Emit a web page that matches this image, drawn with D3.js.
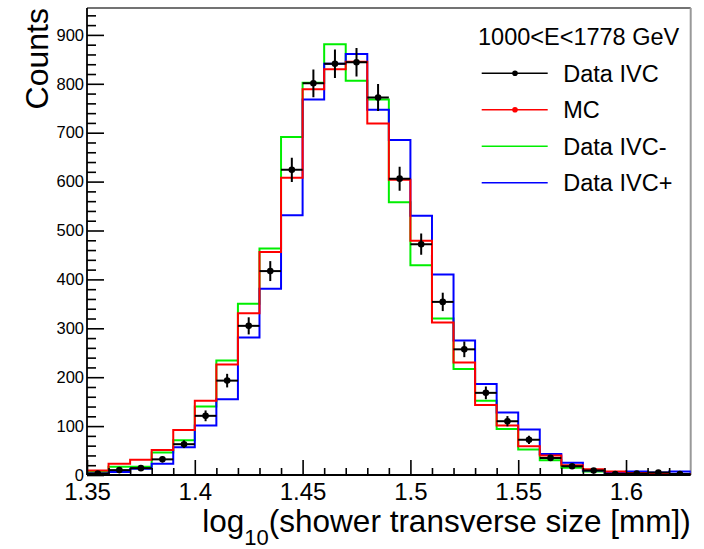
<!DOCTYPE html>
<html>
<head>
<meta charset="utf-8">
<script src="https://cdn.jsdelivr.net/npm/d3@7"></script>
<style>
  body { margin: 0; background: #fff; }
  svg text { font-family: "Liberation Sans", Arial, Helvetica, sans-serif; fill: #000; }
</style>
</head>
<body>
<svg id="chart" width="704" height="549"></svg>
<script>
// Bin low edges of log10(shower transverse size [mm]), each bin 0.01 wide
const binLow = [1.35, 1.36, 1.37, 1.38, 1.39, 1.40, 1.41, 1.42, 1.43, 1.44,
                1.45, 1.46, 1.47, 1.48, 1.49, 1.50, 1.51, 1.52, 1.53, 1.54,
                1.55, 1.56, 1.57, 1.58, 1.59, 1.60, 1.61, 1.62];
const binWidth = 0.01;

// Data IVC counts and their statistical errors
const dataIVC = [3, 10, 14, 32, 63, 121, 193, 305, 417, 624,
                 801, 841, 844, 772, 606, 472, 354, 257, 168, 110,
                 72, 35, 18, 9, 2, 3, 5, 2];
const dataErr = [1.7, 3.2, 3.7, 5.7, 7.9, 11.0, 13.9, 17.5, 20.4, 25.0,
                 28.3, 29.0, 29.1, 27.8, 24.6, 21.7, 18.8, 16.0, 13.0, 10.5,
                 8.5, 5.9, 4.2, 3.0, 1.4, 1.7, 2.2, 1.4];
// MC
const mc = [9, 23, 31, 51, 92, 152, 226, 331, 456, 608,
            789, 830, 845, 719, 604, 479, 312, 230, 143, 101,
            59, 40, 20, 12, 7, 4, 3, 2];
// Data IVC-
const ivcMinus = [7, 17, 17, 46, 71, 140, 234, 350, 463, 691,
                  802, 881, 806, 768, 558, 429, 320, 217, 152, 94,
                  52, 30, 15, 7, 2, 2, 2, 1];
// Data IVC+
const ivcPlus = [3, 6, 13, 23, 57, 101, 155, 281, 381, 531,
                 768, 841, 861, 747, 685, 530, 410, 275, 186, 128,
                 93, 43, 25, 9, 5, 7, 5, 7];

const xTicks = [1.35, 1.4, 1.45, 1.5, 1.55, 1.6];
const xMinorTicks = [1.36, 1.37, 1.38, 1.39, 1.41, 1.42, 1.43, 1.44, 1.46, 1.47, 1.48, 1.49,
                     1.51, 1.52, 1.53, 1.54, 1.56, 1.57, 1.58, 1.59, 1.61, 1.62];
const yTicks = [0, 100, 200, 300, 400, 500, 600, 700, 800, 900];
const yMinorTicks = [20, 40, 60, 80, 120, 140, 160, 180, 220, 240, 260, 280,
                     320, 340, 360, 380, 420, 440, 460, 480, 520, 540, 560, 580,
                     620, 640, 660, 680, 720, 740, 760, 780, 820, 840, 860, 880, 920, 940];

const legendHeader = "1000<E<1778 GeV";
const legendNames = ["Data IVC", "MC", "Data IVC-", "Data IVC+"];
const legendColors = ["#000000", "#ff0000", "#00ee00", "#0000ff"];
const legendMarkers = [true, true, false, false];

const frame = { left: 87, right: 690.7, top: 8, bottom: 475 };

const svg = d3.select("#chart");
const x = d3.scaleLinear().domain([1.35, 1.63]).range([frame.left, frame.right]);
const y = d3.scaleLinear().domain([0, 955]).range([frame.bottom, frame.top]);

svg.append("defs").append("clipPath").attr("id", "plotClip")
  .append("rect")
  .attr("x", frame.left).attr("y", frame.top - 1)
  .attr("width", frame.right - frame.left).attr("height", frame.bottom - frame.top + 1);

// Frame top and right
svg.append("line")
  .attr("x1", frame.left).attr("x2", frame.right)
  .attr("y1", frame.top).attr("y2", frame.top)
  .attr("stroke", "#444").attr("stroke-width", 1.3);
svg.append("line")
  .attr("x1", frame.right).attr("x2", frame.right)
  .attr("y1", frame.top).attr("y2", frame.bottom)
  .attr("stroke", "#999").attr("stroke-width", 2);

// Step outline of a histogram, closed to the baseline at both ends
function stepPoints(values) {
  const pts = [[binLow[0], 0]];
  values.forEach((v, i) => {
    pts.push([binLow[i], v]);
    pts.push([binLow[i] + binWidth, v]);
  });
  pts.push([binLow[binLow.length - 1] + binWidth, 0]);
  return pts;
}
const stepLine = d3.line().x(d => x(d[0])).y(d => y(d[1]));

const plot = svg.append("g").attr("clip-path", "url(#plotClip)");
[[ivcMinus, "#00ee00"], [ivcPlus, "#0000ff"], [mc, "#ff0000"]].forEach(([vals, col]) => {
  plot.append("path")
    .attr("d", stepLine(stepPoints(vals)))
    .attr("fill", "none")
    .attr("stroke", col)
    .attr("stroke-width", 2)
    .attr("stroke-linejoin", "miter");
});

// Data IVC points with error bars
const pts = plot.append("g");
dataIVC.forEach((v, i) => {
  const c = binLow[i] + binWidth / 2;
  pts.append("line")
    .attr("x1", x(binLow[i])).attr("x2", x(binLow[i] + binWidth))
    .attr("y1", y(v)).attr("y2", y(v))
    .attr("stroke", "#000").attr("stroke-width", 2);
  pts.append("line")
    .attr("x1", x(c)).attr("x2", x(c))
    .attr("y1", y(v - dataErr[i])).attr("y2", y(v + dataErr[i]))
    .attr("stroke", "#000").attr("stroke-width", 2);
  pts.append("circle")
    .attr("cx", x(c)).attr("cy", y(v)).attr("r", 3.3)
    .attr("fill", "#000");
});

// Axes
function styleAxis(g, width) {
  g.select(".domain").attr("stroke", "#000").attr("stroke-width", width);
  g.selectAll(".tick line").attr("stroke", "#000").attr("stroke-width", 1.6);
}

const yAxis = svg.append("g")
  .attr("transform", `translate(${frame.left},0)`)
  .call(d3.axisLeft(y).tickValues(yTicks).tickSize(-17).tickSizeOuter(0).tickPadding(3)
        .tickFormat(d3.format("d")));
styleAxis(yAxis, 1.8);
yAxis.select(".domain").attr("d", `M0,${frame.top}V${frame.bottom}`);
yAxis.selectAll(".tick text").attr("font-size", 16.5).attr("fill", "#000");

const yMinor = svg.append("g")
  .attr("transform", `translate(${frame.left},0)`)
  .call(d3.axisLeft(y).tickValues(yMinorTicks).tickSize(-9).tickFormat(""));
yMinor.select(".domain").remove();
styleAxis(yMinor, 1);

const xAxis = svg.append("g")
  .attr("transform", `translate(0,${frame.bottom})`)
  .call(d3.axisBottom(x).tickValues(xTicks).tickSize(-15).tickSizeOuter(0).tickPadding(8)
        .tickFormat(d => String(d)));
styleAxis(xAxis, 1.8);
xAxis.select(".domain").attr("d", `M${frame.left},0H${frame.right}`);
xAxis.selectAll(".tick text").attr("font-size", 24).attr("fill", "#000");

const xMinor = svg.append("g")
  .attr("transform", `translate(0,${frame.bottom})`)
  .call(d3.axisBottom(x).tickValues(xMinorTicks).tickSize(-7).tickFormat(""));
xMinor.select(".domain").remove();
styleAxis(xMinor, 1);

// Axis titles
svg.append("text")
  .attr("transform", "translate(48,8) rotate(-90)")
  .attr("text-anchor", "end")
  .attr("font-size", 32)
  .text("Counts");

const xt = svg.append("text")
  .attr("x", frame.right).attr("y", 532)
  .attr("text-anchor", "end")
  .attr("font-size", 31.5);
xt.append("tspan").text("log");
xt.append("tspan").attr("font-size", 22).attr("dy", 13).text("10");
xt.append("tspan").attr("dy", -13).text("(shower transverse size [mm])");

// Legend
const leg = svg.append("g");
leg.append("text")
  .attr("x", 478).attr("y", 45)
  .attr("font-size", 23.5)
  .text(legendHeader);
legendNames.forEach((name, i) => {
  const ly = 73.3 + i * 36.5;
  leg.append("line")
    .attr("x1", 481.7).attr("x2", 547.7).attr("y1", ly).attr("y2", ly)
    .attr("stroke", legendColors[i]).attr("stroke-width", 1.6);
  if (legendMarkers[i]) {
    leg.append("circle").attr("cx", 515).attr("cy", ly).attr("r", 2.8)
      .attr("fill", legendColors[i]);
  }
  leg.append("text")
    .attr("x", 563.3).attr("y", ly + 8.5)
    .attr("font-size", 23.5)
    .text(name);
});
</script>
</body>
</html>
